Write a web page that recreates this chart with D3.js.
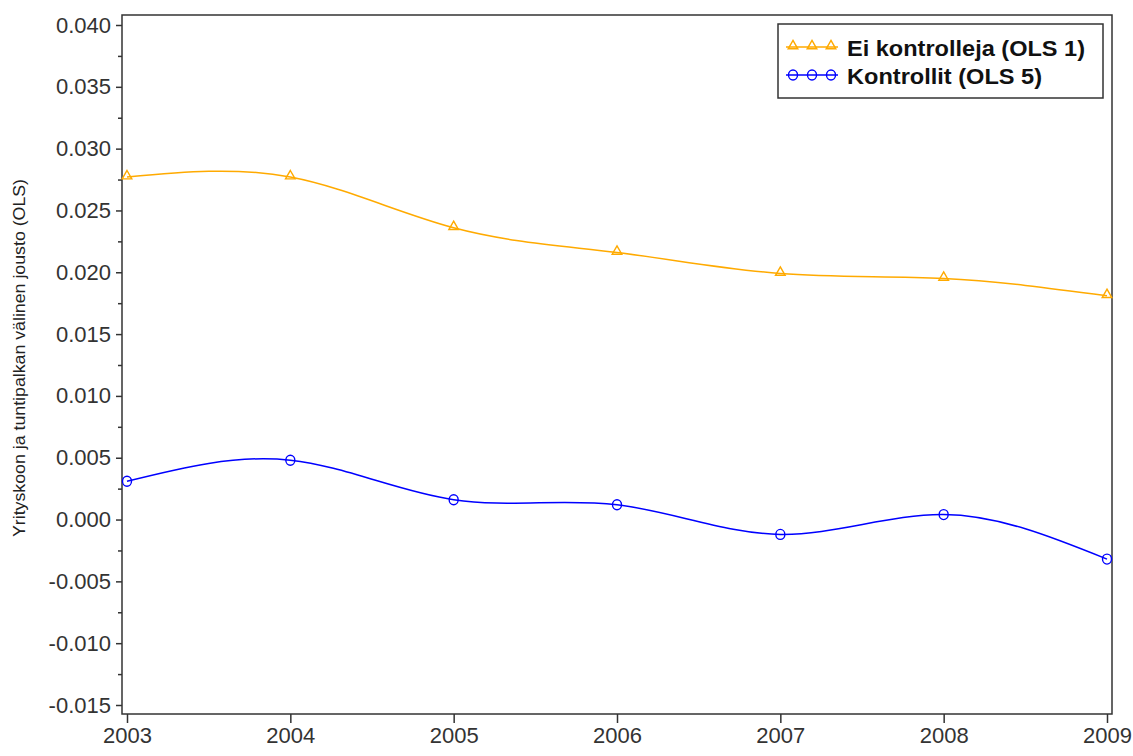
<!DOCTYPE html>
<html>
<head>
<meta charset="utf-8">
<script src="https://cdn.jsdelivr.net/npm/d3@7"></script>
<style>
  body { margin: 0; background: #fff; }
  svg { display: block; font-family: "Liberation Sans", Arial, sans-serif; }
</style>
</head>
<body>
<svg id="chart" width="1133" height="756"></svg>
<script>
const years = [2003, 2004, 2005, 2006, 2007, 2008, 2009];
const ols1 = [0.0277, 0.0277, 0.0236, 0.0216, 0.0199, 0.0195, 0.0181];
const ols5 = [0.0031, 0.0048, 0.0016, 0.0012, -0.0012, 0.0004, -0.0032];
const seriesNames = ["Ei kontrolleja (OLS 1)", "Kontrollit (OLS 5)"];
const yTicks = [-0.015, -0.010, -0.005, 0.000, 0.005, 0.010, 0.015, 0.020, 0.025, 0.030, 0.035, 0.040];
const yMinorTicks = [-0.0125, -0.0075, -0.0025, 0.0025, 0.0075, 0.0125, 0.0175, 0.0225, 0.0275, 0.0325, 0.0375];
const yLabel = "Yrityskoon ja tuntipalkan välinen jousto (OLS)";

const svg = d3.select("#chart");
const plot = { left: 122, right: 1112, top: 15, bottom: 714 };
const x = d3.scaleLinear().domain([2003, 2009]).range([127, 1107]);
const y = d3.scaleLinear().domain([-0.015, 0.040]).range([705, 25]);

const axisColor = "#333";
const colors = ["#FFAA00", "#0000FF"];

// Y axis
const yAxis = svg.append("g").attr("transform", `translate(${plot.left},0)`)
  .call(d3.axisLeft(y).tickValues(yTicks).tickFormat(d3.format(".3f")).tickSize(6).tickPadding(5))
  .call(g => g.select(".domain").remove());
yAxis.selectAll("text").attr("font-size", 22).attr("fill", axisColor)
  .text(d => d3.format(".3f")(d).replace("−", "-"));
yAxis.selectAll("line").attr("stroke", axisColor).attr("stroke-width", 1.5);
const yMinor = svg.append("g").attr("transform", `translate(${plot.left},0)`)
  .call(d3.axisLeft(y).tickValues(yMinorTicks).tickFormat("").tickSize(4))
  .call(g => g.select(".domain").remove());
yMinor.selectAll("line").attr("stroke", axisColor).attr("stroke-width", 1.5);

// X axis
const xAxis = svg.append("g").attr("transform", `translate(0,${plot.bottom})`)
  .call(d3.axisBottom(x).tickValues(years).tickFormat(d3.format("d")).tickSize(9).tickPadding(4))
  .call(g => g.select(".domain").remove());
xAxis.selectAll("text").attr("font-size", 22).attr("fill", axisColor);
xAxis.selectAll("line").attr("stroke", axisColor).attr("stroke-width", 1.5);

// Frame
svg.append("rect")
  .attr("x", plot.left).attr("y", plot.top)
  .attr("width", plot.right - plot.left).attr("height", plot.bottom - plot.top)
  .attr("fill", "none").attr("stroke", axisColor).attr("stroke-width", 1.5);

// Y label
svg.append("text")
  .attr("transform", `translate(25,358) rotate(-90)`)
  .attr("text-anchor", "middle")
  .attr("font-size", 17).attr("fill", "#222")
  .attr("textLength", 358).attr("lengthAdjust", "spacingAndGlyphs")
  .text(yLabel);

// Lines
const line = d3.line().x(d => x(d[0])).y(d => y(d[1])).curve(d3.curveNatural);
const seriesData = [ols1, ols5].map(vals => years.map((yr, i) => [yr, vals[i]]));

const triangle = d3.symbol().type(d3.symbolTriangle).size(40);

function drawMarker(g, type, cx, cy, color) {
  if (type === 0) {
    g.append("path").attr("d", triangle()).attr("transform", `translate(${cx},${cy - 1})`)
      .attr("fill", "none").attr("stroke", color).attr("stroke-width", 1.4);
  } else {
    g.append("ellipse").attr("cx", cx).attr("cy", cy).attr("rx", 4.5).attr("ry", 5)
      .attr("fill", "none").attr("stroke", color).attr("stroke-width", 1.4);
  }
}

seriesData.forEach((data, si) => {
  svg.append("path").datum(data).attr("d", line)
    .attr("fill", "none").attr("stroke", colors[si]).attr("stroke-width", 1.5);
  const g = svg.append("g");
  data.forEach(d => drawMarker(g, si, x(d[0]), y(d[1]), colors[si]));
});

// Legend
const legend = svg.append("g");
legend.append("rect").attr("x", 778).attr("y", 24).attr("width", 325).attr("height", 74)
  .attr("fill", "#fff").attr("stroke", "#333").attr("stroke-width", 1.5);
const legendWidths = [238, 195];
seriesNames.forEach((name, si) => {
  const ly = 47 + si * 28;
  legend.append("line").attr("x1", 786).attr("x2", 838).attr("y1", ly).attr("y2", ly)
    .attr("stroke", colors[si]).attr("stroke-width", 1.5);
  [793, 812, 831].forEach(mx => drawMarker(legend, si, mx, ly, colors[si]));
  legend.append("text").attr("x", 847).attr("y", ly + 9)
    .attr("font-size", 22).attr("font-weight", "bold").attr("fill", "#111")
    .attr("textLength", legendWidths[si]).attr("lengthAdjust", "spacingAndGlyphs")
    .text(name);
});
</script>
</body>
</html>
